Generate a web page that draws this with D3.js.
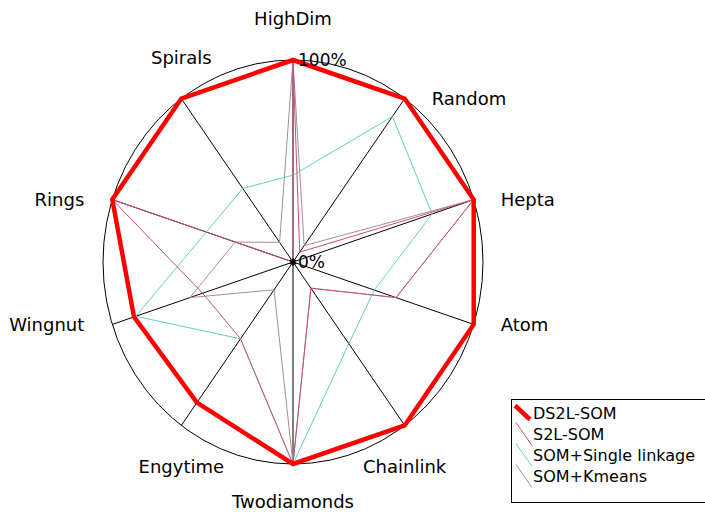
<!DOCTYPE html>
<html><head><meta charset="utf-8">
<script src="https://cdn.jsdelivr.net/npm/d3@7"></script>
<style>body{margin:0;background:#fff} svg{display:block} text{font-family:"DejaVu Sans",sans-serif;fill:#000}</style>
</head><body><svg id="c" width="705" height="512"></svg>
<script>
const categories = ["HighDim","Random","Hepta","Atom","Chainlink","Twodiamonds","Engytime","Wingnut","Rings","Spirals"];
const ds2lSom   = [1.00, 1.00, 1.00, 1.00, 1.00, 1.00, 0.86, 0.88, 1.00, 1.00];
const s2lSom    = [1.00, 0.06, 1.00, 0.57, 0.16, 1.00, 0.47, 0.50, 1.00, 0.00];
const somSingle = [0.43, 0.89, 0.77, 0.45, 0.50, 1.00, 0.47, 0.87, 0.48, 0.45];
const somKmeans = [1.00, 0.10, 1.00, 0.57, 0.16, 1.00, 0.17, 0.57, 0.32, 0.12];
const seriesNames = ["DS2L-SOM","S2L-SOM","SOM+Single linkage","SOM+Kmeans"];
const tickValues = [0, 1];
const tickLabels = ["0%","100%"];

const series = [
  {name: seriesNames[0], values: ds2lSom,   color: "#ff0000", width: 4.5},
  {name: seriesNames[1], values: s2lSom,    color: "#c8507e", width: 1},
  {name: seriesNames[2], values: somSingle, color: "#62cfc0", width: 1},
  {name: seriesNames[3], values: somKmeans, color: "#a89088", width: 1}
];

const cx = 293, cy = 262;
const svg = d3.select("#c");
const angle = d3.scaleLinear().domain([0, categories.length]).range([0, 2*Math.PI]);
const rX = d3.scaleLinear().domain([0, 1]).range([0, 190]);
const rY = d3.scaleLinear().domain([0, 1]).range([0, 202]);
const px = (i, v) => cx + rX(v) * Math.sin(angle(i));
const py = (i, v) => cy - rY(v) * Math.cos(angle(i));

// outer ellipse
svg.append("ellipse").attr("cx", cx).attr("cy", cy)
  .attr("rx", rX(1)).attr("ry", rY(1))
  .attr("fill", "none").attr("stroke", "#000").attr("stroke-width", 1);

// spokes
svg.append("g").selectAll("line").data(categories).join("line")
  .attr("x1", cx).attr("y1", cy)
  .attr("x2", (d, i) => px(i, 1)).attr("y2", (d, i) => py(i, 1))
  .attr("stroke", "#000").attr("stroke-width", 1);

// series (thin first, thick on top)
const line = d3.line()
  .x(d => px(d.i, d.v)).y(d => py(d.i, d.v))
  .curve(d3.curveLinearClosed);
const drawOrder = [series[3], series[2], series[1], series[0]];
svg.append("g").selectAll("path").data(drawOrder).join("path")
  .attr("d", s => line(s.values.map((v, i) => ({i, v}))))
  .attr("fill", "none")
  .attr("stroke", s => s.color)
  .attr("stroke-width", s => s.width)
  .attr("stroke-linejoin", "miter");

// center marker
svg.append("path")
  .attr("transform", `translate(${cx},${cy})`)
  .attr("d", d3.symbol(d3.symbolAsterisk, 40)())
  .attr("fill", "none").attr("stroke", "#000").attr("stroke-width", 1.6);

// tick labels
svg.append("g").selectAll("text").data(tickValues).join("text")
  .attr("x", cx + 5)
  .attr("y", d => py(0, d))
  .attr("dy", "0.35em")
  .attr("font-size", 17)
  .text((d, i) => tickLabels[i]);

// axis labels
svg.append("g").selectAll("text").data(categories).join("text")
  .each(function(d, i) {
    const deg = i * 360 / categories.length;
    const s = Math.sin(angle(i)), c = Math.cos(angle(i));
    const vertical = deg < 35.9 || deg > 323.9 || (deg > 143.9 && deg < 216.1);
    const t = d3.select(this);
    if (vertical) {
      const y = Math.min(py(i, 1) + (c > 0 ? -41 : 41), 502);
      t.attr("x", px(i, 1)).attr("y", y).attr("text-anchor", "middle");
    } else {
      t.attr("x", px(i, 1) + (s > 0 ? 27 : -28)).attr("y", py(i, 1)).attr("text-anchor", s > 0 ? "start" : "end");
    }
  })
  .attr("dy", "0.35em")
  .attr("font-size", 18)
  .text(d => d);

// legend
const lg = svg.append("g");
lg.append("rect").attr("x", 511.5).attr("y", 399.5).attr("width", 200).attr("height", 103)
  .attr("fill", "#fff").attr("stroke", "#000").attr("stroke-width", 1);
const items = lg.selectAll("g").data(series).join("g")
  .attr("transform", (d, i) => `translate(0,${413.5 + 21 * i})`);
items.append("line")
  .attr("x1", (d, i) => i === 0 ? 515 : 516)
  .attr("y1", (d, i) => i === 0 ? -8 : -12)
  .attr("x2", (d, i) => i === 0 ? 530 : 532)
  .attr("y2", (d, i) => i === 0 ? 6 : 11)
  .attr("stroke", d => d.color).attr("stroke-width", d => d.width);
items.append("text").attr("x", 533).attr("y", 0).attr("dy", "0.35em")
  .attr("font-size", 16).text(d => d.name);
</script></body></html>
